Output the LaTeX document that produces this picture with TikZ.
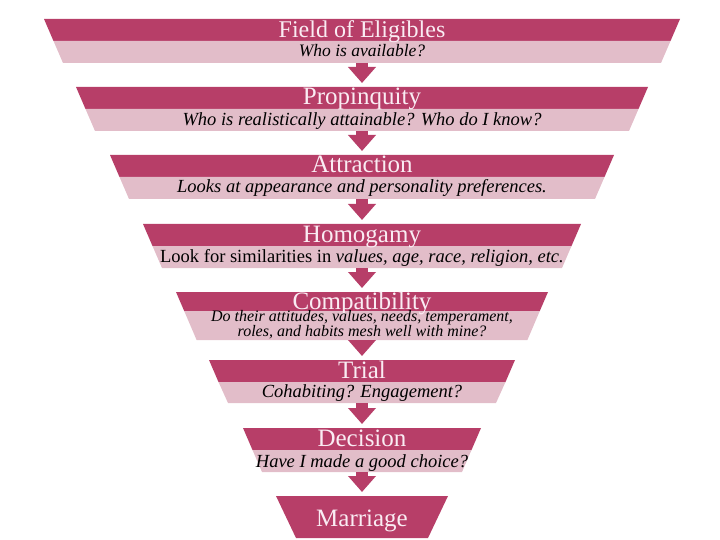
\documentclass[tikz,border=0pt]{standalone}
\usepackage{fontspec}
\setmainfont{Liberation Serif}
\usetikzlibrary{arrows.meta}
\definecolor{funneldark}{RGB}{183,62,104}
\definecolor{funnellight}{RGB}{226,189,201}
\definecolor{titletext}{RGB}{250,236,243}

\begin{document}
\begin{tikzpicture}[x=1pt, y=-1pt,
	dark/.style={fill=funneldark},
	light/.style={fill=funnellight},
	title/.style={anchor=base, inner sep=0pt, text=titletext, font=\fontsize{25}{25}\selectfont},
	sub/.style={anchor=base, inner sep=0pt, font=\fontsize{18.5}{18.5}\selectfont\itshape},
	down/.style={draw=funneldark, line width=12pt, -{Triangle[width=27pt, length=16pt]}}]
	\useasboundingbox (0,0) rectangle (720,540);
	% field of eligibles
	\fill[dark] (44,19) -- (680,19) -- (670.5,41) -- (53.5,41) -- cycle;
	\fill[light] (53.5,41) -- (670.5,41) -- (661,63) -- (63,63) -- cycle;
	\node[title, font=\fontsize{24}{24}\selectfont] (field) at (362,38) {Field of Eligibles};
	\node[sub, font=\fontsize{17.5}{17.5}\selectfont\itshape] (fieldq) at (362,57) {Who is available?};
	\coordinate (field-out) at (362,63);
	% propinquity
	\fill[dark] (76,87) -- (648,87) -- (638.5,109) -- (85.5,109) -- cycle;
	\fill[light] (85.5,109) -- (638.5,109) -- (629,131) -- (95,131) -- cycle;
	\node[title] (prop) at (362,105) {Propinquity};
	\node[sub] (propq) at (362,126) {Who is realistically attainable? Who do I know?};
	\coordinate (prop-in) at (362,83);
	\coordinate (prop-out) at (362,131);
	% attraction
	\fill[dark] (110,155) -- (614,155) -- (604.5,177) -- (119.5,177) -- cycle;
	\fill[light] (119.5,177) -- (604.5,177) -- (595,199) -- (129,199) -- cycle;
	\node[title] (attr) at (362,173) {Attraction};
	\node[sub] (attrq) at (362,193) {Looks at appearance and personality preferences.};
	\coordinate (attr-in) at (362,151);
	\coordinate (attr-out) at (362,199);
	% homogamy
	\fill[dark] (143,224) -- (581,224) -- (571.5,246) -- (152.5,246) -- cycle;
	\fill[light] (152.5,246) -- (571.5,246) -- (562,268) -- (162,268) -- cycle;
	\node[title] (homo) at (362,242) {Homogamy};
	\node[sub, font=\fontsize{18.5}{18.5}\selectfont] (homoq) at (362,262) {Look for similarities in \textit{values, age, race, religion, etc.}};
	\coordinate (homo-in) at (362,220);
	\coordinate (homo-out) at (362,268);
	% compatibility
	\fill[dark] (176,292) -- (548,292) -- (539.8,311) -- (184.2,311) -- cycle;
	\fill[light] (184.2,311) -- (539.8,311) -- (527.4,340) -- (196.6,340) -- cycle;
	\node[title] (compat) at (362,309) {Compatibility};
	\node[sub, align=center, font=\fontsize{16}{15}\selectfont\itshape] (compatq) at (362,336) {Do their attitudes, values, needs, temperament,\\ roles, and habits mesh well with mine?};
	\coordinate (compat-in) at (362,288);
	\coordinate (compat-out) at (362,340);
	% trial
	\fill[dark] (209,360) -- (515,360) -- (505.5,382) -- (218.5,382) -- cycle;
	\fill[light] (218.5,382) -- (505.5,382) -- (496,403) -- (228,403) -- cycle;
	\node[title] (trial) at (362,378) {Trial};
	\node[sub] (trialq) at (362,397) {Cohabiting? Engagement?};
	\coordinate (trial-in) at (362,356);
	\coordinate (trial-out) at (362,403);
	% decision
	\fill[dark] (243,428) -- (481,428) -- (471.5,450) -- (252.5,450) -- cycle;
	\fill[light] (252.5,450) -- (471.5,450) -- (462,472) -- (262,472) -- cycle;
	\node[title] (decide) at (362,446) {Decision};
	\node[sub] (decideq) at (362,467) {Have I made a good choice?};
	\coordinate (decide-in) at (362,424);
	\coordinate (decide-out) at (362,472);
	% marriage
	\fill[dark] (276,496) -- (448,496) -- (428,538) -- (296,538) -- cycle;
	\node[title] (marry) at (362,526) {Marriage};
	\coordinate (marry-in) at (362,492);
	% arrows
	\draw[down] (field-out) -- (prop-in);
	\draw[down] (prop-out) -- (attr-in);
	\draw[down] (attr-out) -- (homo-in);
	\draw[down] (homo-out) -- (compat-in);
	\draw[down] (compat-out) -- (trial-in);
	\draw[down] (trial-out) -- (decide-in);
	\draw[down] (decide-out) -- (marry-in);
\end{tikzpicture}
\end{document}
